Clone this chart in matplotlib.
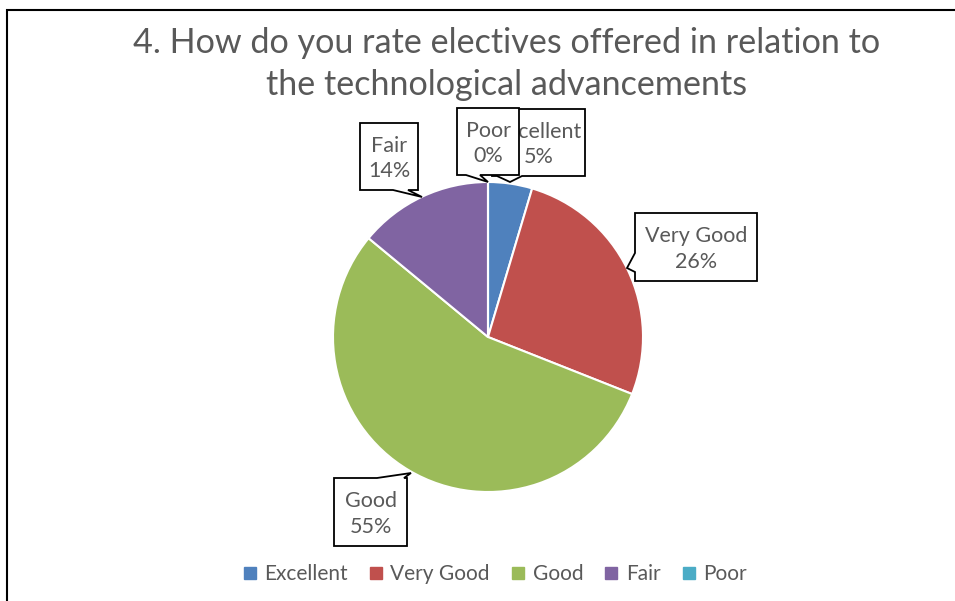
import matplotlib
matplotlib.use('Agg')
import matplotlib.pyplot as plt
from matplotlib.patches import Polygon, Rectangle
from matplotlib.lines import Line2D

plt.rcParams['font.family'] = ['Lato', 'DejaVu Sans']

# data
categories = ['Excellent', 'Very Good', 'Good', 'Fair', 'Poor']
values = [4.6, 26.4, 55.0, 14.0, 0.0]
colors = ['#4F81BD', '#C0504D', '#9BBB59', '#8064A2', '#4BACC6']
title = '4. How do you rate electives offered in relation to\nthe technological advancements'

W, H = 955, 601
TXT = '#595959'

fig = plt.figure(figsize=(W / 100, H / 100), dpi=100)
ax = fig.add_axes([0, 0, 1, 1])


def py(y):
    # pixel row (top down) -> data y
    return H - y


ax.pie(values, colors=colors, startangle=90, counterclock=False,
       center=(488, py(337)), radius=155,
       wedgeprops=dict(edgecolor='white', linewidth=1.5))

ax.set_xlim(0, W)
ax.set_ylim(0, H)
ax.set_aspect('equal')
ax.axis('off')

# chart border (runs off the right and bottom)
ax.add_patch(Rectangle((7, py(H + 20)), W + 20, H + 10, fill=False,
                       edgecolor='black', lw=1.5, zorder=1))

ax.text(507, py(64), title, ha='center', va='center', fontsize=24.6,
        color=TXT, linespacing=1.4)

z = [3]


def callout(box, side, base, tip, text):
    l, t, r, b = box
    pts = []
    if side == 'bottom':
        pts = [(l, t), (r, t), (r, b), (base[1], b), tip, (base[0], b), (l, b)]
    elif side == 'left':
        pts = [(l, t), (r, t), (r, b), (l, b), (l, base[1]), tip, (l, base[0])]
    elif side == 'top':
        pts = [(l, t), (base[0], t), tip, (base[1], t), (r, t), (r, b), (l, b)]
    pts = [(x, py(y)) for x, y in pts]
    ax.add_patch(Polygon(pts, closed=True, facecolor='white',
                         edgecolor='black', lw=1.3, zorder=z[0]))
    ax.text((l + r) / 2, py((t + b) / 2 + 2), text, ha='center', va='center',
            fontsize=15.5, color=TXT, linespacing=1.35, zorder=z[0] + 0.5)
    z[0] += 1


pct = [round(v / sum(values) * 100) for v in values]
labels = ['%s\n%d%%' % (c, p) for c, p in zip(categories, pct)]

callout((492, 109, 585, 176), 'bottom', (497, 522), (510, 182), labels[0])
callout((635, 213, 757, 281), 'left', (253, 272), (627, 268), labels[1])
callout((334, 478, 407, 546), 'top', (377, 404), (411, 473), labels[2])
callout((360, 123, 418, 190), 'bottom', (393, 408), (422, 197), labels[3])
callout((457, 108, 519, 175), 'bottom', (466, 480), (488, 182), labels[4])

handles = [Line2D([0], [0], marker='s', linestyle='', markersize=8,
                  markerfacecolor=c, markeredgecolor=c) for c in colors]
fig.legend(handles, categories, loc='center', bbox_to_anchor=(493 / W, 1 - 574 / H),
           ncol=5, frameon=False, fontsize=15, labelcolor=TXT,
           handletextpad=0.2, columnspacing=0.85, handlelength=1.0)

fig.savefig('out.png', dpi=100)
